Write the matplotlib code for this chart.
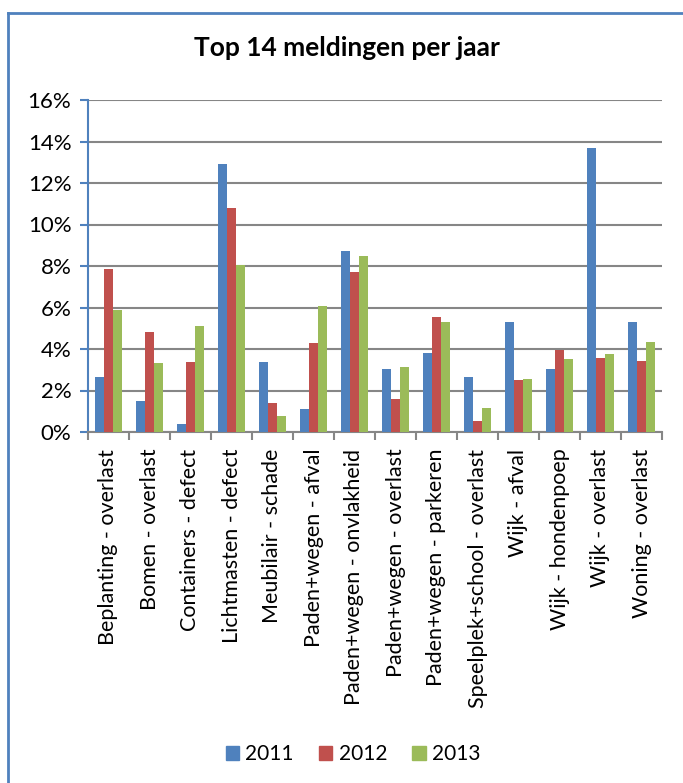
import matplotlib.pyplot as plt
import matplotlib.patches as mpatches
from matplotlib.lines import Line2D
import numpy as np

plt.rcParams['font.family'] = ['Lato', 'DejaVu Sans']

categories = [
    'Beplanting - overlast', 'Bomen - overlast', 'Containers - defect',
    'Lichtmasten - defect', 'Meubilair - schade', 'Paden+wegen - afval',
    'Paden+wegen - onvlakheid', 'Paden+wegen - overlast', 'Paden+wegen - parkeren',
    'Speelplek+school - overlast', 'Wijk - afval', 'Wijk - hondenpoep',
    'Wijk - overlast', 'Woning - overlast',
]
years = ['2011', '2012', '2013']
vals_2011 = [2.65, 1.49, 0.37, 12.92, 3.39, 1.11, 8.72, 3.03, 3.79, 2.65, 5.30, 3.03, 13.68, 5.30]
vals_2012 = [7.87, 4.83, 3.39, 10.79, 1.40, 4.29, 7.70, 1.59, 5.54, 0.51, 2.49, 3.95, 3.56, 3.40]
vals_2013 = [5.89, 3.32, 5.10, 8.07, 0.75, 6.08, 8.46, 3.13, 5.30, 1.16, 2.55, 3.53, 3.74, 4.32]
colors = ['#4F81BD', '#C0504D', '#9BBB59']

W, H = 683, 783
fig = plt.figure(figsize=(W / 100, H / 100), dpi=100)
ax = fig.add_axes([88 / W, 1 - 432 / H, (662 - 88) / W, (432 - 100) / H])

# outer chart frame: only left and top edges fall inside the picture
frame_kw = dict(transform=fig.transFigure, color='#4F81BD', linewidth=2)
fig.add_artist(Line2D([7.5 / W, 7.5 / W], [0, 1 - 12.5 / H], **frame_kw))
fig.add_artist(Line2D([7.5 / W, 1], [1 - 12.5 / H, 1 - 12.5 / H], **frame_kw))

x = np.arange(len(categories))
w = 0.22
for i, (vals, c) in enumerate(zip([vals_2011, vals_2012, vals_2013], colors)):
    ax.bar(x + (i - 1) * w, vals, width=w, color=c, label=years[i], zorder=3)

ax.set_xlim(-0.5, len(categories) - 0.5)
ax.set_ylim(0, 16)
ax.set_yticks(np.arange(0, 17, 2))
ax.set_yticklabels([f'{v}%' for v in range(0, 17, 2)], fontsize=16)
ax.yaxis.grid(True, color='#868686', linewidth=1.5, zorder=0)
ax.set_axisbelow(True)

ax.set_xticks(x)
ax.set_xticklabels(categories, rotation=90, fontsize=15.5)
ax.tick_params(axis='x', length=0, pad=12)
ax.set_xticks(np.arange(-0.5, len(categories), 1), minor=True)
ax.tick_params(axis='x', which='minor', length=6, width=1.5, color='#868686')
ax.tick_params(axis='y', length=6, width=1.5, color='#4F81BD', pad=6)

for s in ['top', 'right']:
    ax.spines[s].set_visible(False)
ax.spines['left'].set_color('#4F81BD')
ax.spines['left'].set_linewidth(1.5)
ax.spines['bottom'].set_color('#868686')
ax.spines['bottom'].set_linewidth(1.5)

fig.text(347 / W, 1 - 48 / H, 'Top 14 meldingen per jaar', ha='center', va='center',
         fontsize=19, fontweight='bold')

handles = [mpatches.Patch(color=c, label=y) for c, y in zip(colors, years)]
fig.legend(handles=handles, loc='center', bbox_to_anchor=(353 / W, 1 - 754 / H),
           ncol=3, frameon=False, fontsize=15, handlelength=0.65, handleheight=0.65,
           handletextpad=0.3, columnspacing=1.2)

fig.savefig('out.png', dpi=100)
